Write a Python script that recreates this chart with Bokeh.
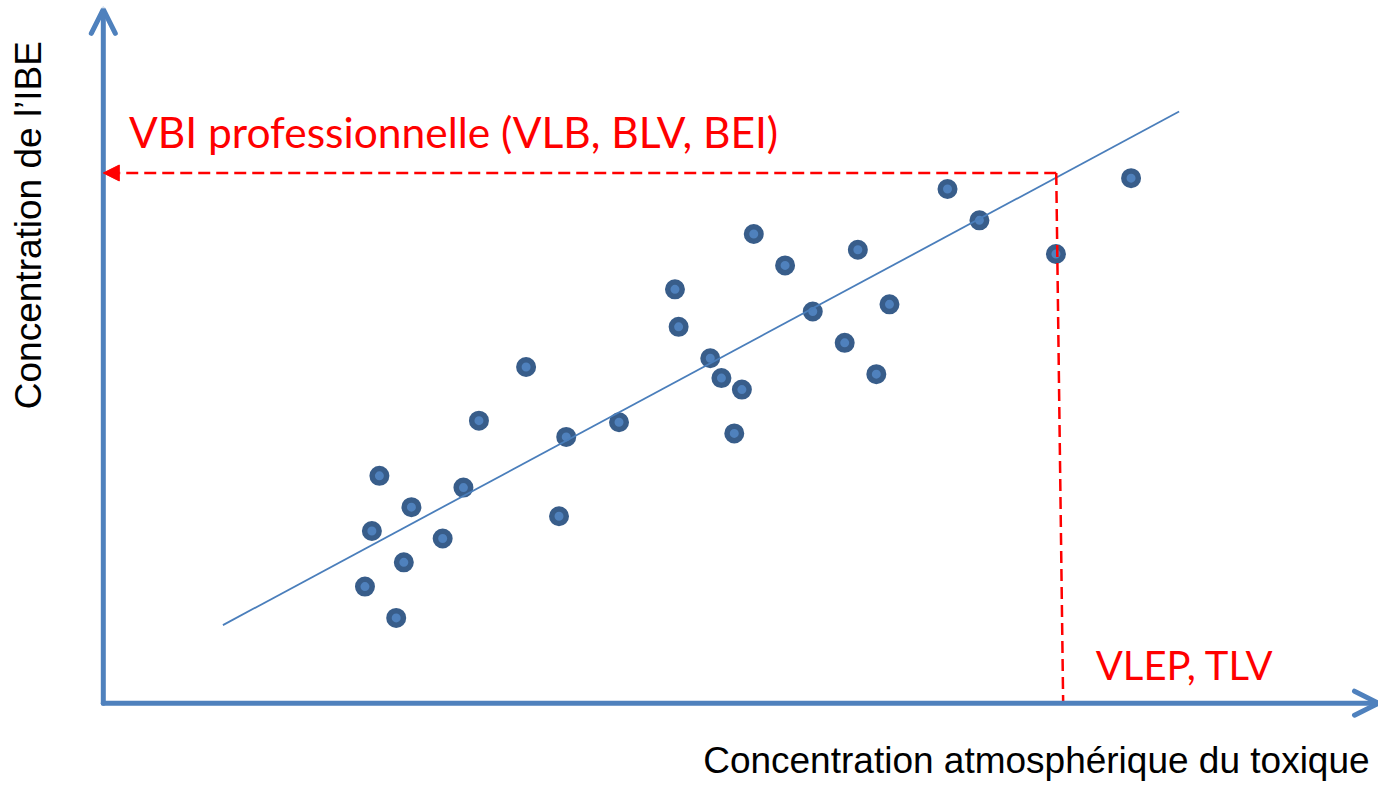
from bokeh.plotting import figure
from bokeh.models import Arrow, OpenHead, NormalHead, Label, Range1d, ColumnDataSource
from bokeh.embed import file_html
from bokeh.resources import INLINE

# ---- data (arbitrary concentration units, origin at axes corner) ----
atmo_conc = [26.47, 27.17, 27.93, 29.63, 30.40, 31.17, 34.33, 36.43, 38.00, 42.77,
             46.10, 46.83, 52.17, 57.83, 58.20, 61.40, 62.53, 63.83, 64.60, 65.80,
             68.97, 71.77, 75.00, 76.33, 78.20, 79.53, 85.40, 88.63, 96.37, 103.97]
ibe_conc = [11.90, 17.57, 23.20, 8.70, 14.37, 20.00, 16.80, 22.00, 28.83, 34.30,
            19.07, 27.17, 28.67, 42.23, 38.40, 35.20, 33.17, 27.53, 32.00, 47.87,
            44.67, 39.97, 36.77, 46.27, 33.57, 40.70, 52.47, 49.27, 45.83, 53.57]

trend_x_range = [12.10, 108.83]
trend_slope = 0.5417
trend_intercept = 1.415

vbi_value = 54.1            # VBI professionnelle level on IBE axis
vlep_value = [96.4, 97.1]   # VLEP level (top, bottom of the drawn guide)

x_axis_len = 129.0
y_axis_len = 70.8

# ---- styles ----
BLUE = "#4F81BD"
DARK = "#385D8A"
LINE = "#4A7EBB"
RED = "#FF0000"

p = figure(width=1378, height=786,
           x_range=Range1d(-10.4, 129.0), y_range=Range1d(-8.5, 71.7),
           output_backend="svg", toolbar_location=None,
           x_axis_location=None, y_axis_location=None, min_border=0)
p.grid.visible = False
p.outline_line_color = None
p.background_fill_color = "white"
p.border_fill_color = "white"

# axes as arrows
p.add_layout(Arrow(x_start=0, y_start=0, x_end=0, y_end=y_axis_len,
                   line_color=BLUE, line_width=5, line_cap="round",
                   end=OpenHead(size=24, line_color=BLUE, line_width=5, line_cap="round")))
p.add_layout(Arrow(x_start=0, y_start=0, x_end=x_axis_len, y_end=0,
                   line_color=BLUE, line_width=5, line_cap="round",
                   end=OpenHead(size=24, line_color=BLUE, line_width=5, line_cap="round")))

# points
src = ColumnDataSource(dict(x=atmo_conc, y=ibe_conc))
p.scatter("x", "y", source=src, size=14.5, fill_color=BLUE, line_color=DARK, line_width=5.5)

# trend line
tx = trend_x_range
ty = [trend_slope * v + trend_intercept for v in tx]
p.line(tx, ty, line_color=LINE, line_width=1.8)

# red guides
p.add_layout(Arrow(x_start=vlep_value[0], y_start=vbi_value, x_end=0, y_end=vbi_value,
                   line_color=RED, line_width=2.5, line_dash="12 6",
                   end=NormalHead(size=16, fill_color=RED, line_color=RED, line_width=1)))
p.line([vlep_value[0], vlep_value[1]], [vbi_value, 0], line_color=RED, line_width=2.5, line_dash="12 6")

# texts
p.add_layout(Label(x=2.6, y=58.3, text="VBI professionnelle (VLB, BLV, BEI)",
                   text_font="Lato", text_font_size="42.5px", text_color=RED,
                   text_align="left", text_baseline="alphabetic"))
p.add_layout(Label(x=100.4, y=3.85, text="VLEP, TLV",
                   text_font="Lato", text_font_size="40px", text_color=RED,
                   text_align="left", text_baseline="alphabetic"))
p.add_layout(Label(x=128.1, y=-5.85, text="Concentration atmosphérique du toxique",
                   text_font="Liberation Sans", text_font_size="37px", text_color="black",
                   text_align="right", text_baseline="alphabetic"))
p.add_layout(Label(x=-7.6, y=30.0, text="Concentration de l\u2019IBE", angle=1.5708,
                   text_font="Liberation Sans", text_font_size="37px", text_color="black",
                   text_align="left", text_baseline="alphabetic"))

open("out.html", "w").write(file_html(p, INLINE))
